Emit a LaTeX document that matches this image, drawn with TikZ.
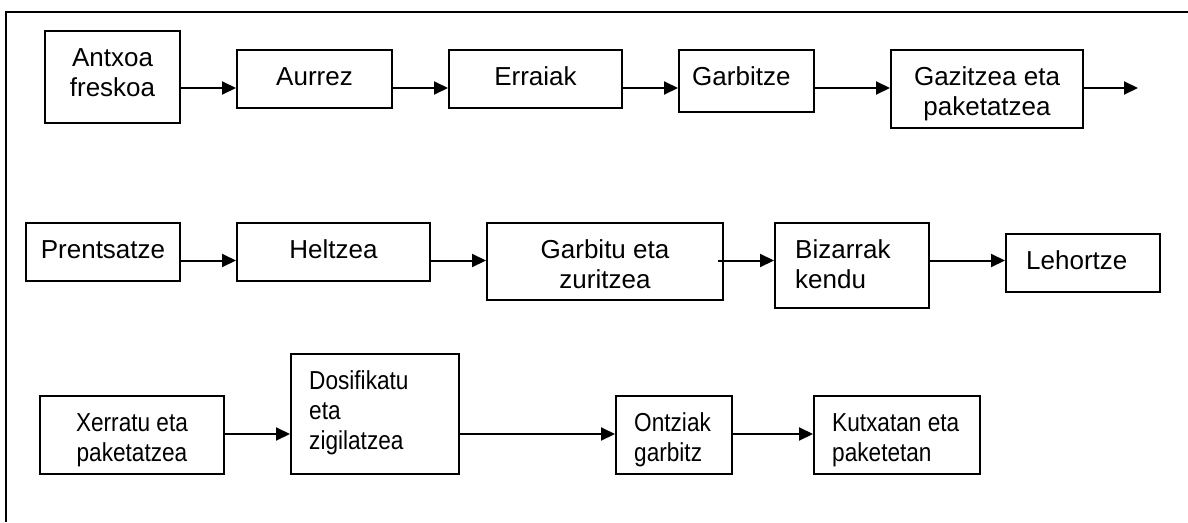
\documentclass[tikz,border=0pt]{standalone}
\usepackage{fontspec}
\usepackage{graphicx}
\setmainfont{Liberation Sans}
\usetikzlibrary{arrows.meta}
\newcommand\ctrlines[1]{\begin{tabular}[t]{@{}c@{}}#1\end{tabular}}
\newcommand\leftlines[1]{\begin{tabular}[t]{@{}l@{}}#1\end{tabular}}
% narrower lettering used in the bottom row
\newcommand\narrow[1]{\scalebox{0.87}[1]{#1}}
\begin{document}
\begin{tikzpicture}[x=1pt,y=-1pt,
  stepbox/.style={draw=black, line width=2pt, inner sep=0pt, anchor=north west},
  lbl/.style={inner sep=0pt, text=black, font=\fontsize{26}{30}\selectfont},
  arr/.style={draw=black, line width=2pt, -{Triangle[length=14pt,width=13pt]}}]
\useasboundingbox (0,0) rectangle (1188,522);
% outer frame (top and left sides only)
\draw[line width=2pt] (6,522) -- (6,11.5) -- (1188,11.5);

% row heights of the connectors
\coordinate (r1) at (0,88);
\coordinate (r2) at (0,260.5);
\coordinate (r3) at (0,434);
\coordinate (end1) at (1138,88);

% first row
\node[stepbox, minimum width=135pt, minimum height=92pt] (b1) at (44,30) {};
\node[stepbox, minimum width=155pt, minimum height=58pt] (b2) at (236,49) {};
\node[stepbox, minimum width=173pt, minimum height=58pt] (b3) at (448,49) {};
\node[stepbox, minimum width=135pt, minimum height=62pt] (b4) at (678,49) {};
\node[stepbox, minimum width=192pt, minimum height=78pt] (b5) at (890,49) {};

% second row
\node[stepbox, minimum width=154pt, minimum height=58pt] (b6) at (25,222) {};
\node[stepbox, minimum width=193pt, minimum height=58pt] (b7) at (236,222) {};
\node[stepbox, minimum width=236pt, minimum height=77pt] (b8) at (486,222) {};
\node[stepbox, minimum width=154pt, minimum height=85pt] (b9) at (774,222) {};
\node[stepbox, minimum width=154pt, minimum height=58pt] (b10) at (1005,233) {};

% third row
\node[stepbox, minimum width=184pt, minimum height=78pt] (b11) at (39,395) {};
\node[stepbox, minimum width=168pt, minimum height=120pt] (b12) at (290,353) {};
\node[stepbox, minimum width=116pt, minimum height=78pt] (b13) at (615,395) {};
\node[stepbox, minimum width=166pt, minimum height=78pt] (b14) at (813,395) {};

% labels: first baseline 36pt below the top edge of each box
\node[lbl, anchor=base] (t1) at ([yshift=-36pt]b1.north) {\ctrlines{Antxoa\\freskoa}};
\node[lbl, anchor=base] (t2) at ([yshift=-36pt]b2.north) {Aurrez};
\node[lbl, anchor=base] (t3) at ([yshift=-36pt]b3.north) {Erraiak};
\node[lbl, anchor=base west] (t4) at ([xshift=14pt,yshift=-36pt]b4.north west) {Garbitze};
\node[lbl, anchor=base] (t5) at ([yshift=-36pt]b5.north) {\ctrlines{Gazitzea eta\\paketatzea}};

\node[lbl, anchor=base] (t6) at ([yshift=-36pt]b6.north) {Prentsatze};
\node[lbl, anchor=base] (t7) at ([yshift=-36pt]b7.north) {Heltzea};
\node[lbl, anchor=base] (t8) at ([yshift=-36pt]b8.north) {\ctrlines{Garbitu eta\\zuritzea}};
\node[lbl, anchor=base west] (t9) at ([xshift=21pt,yshift=-36pt]b9.north west) {\leftlines{Bizarrak\\kendu}};
\node[lbl, anchor=base west] (t10) at ([xshift=21pt,yshift=-36pt]b10.north west) {Lehortze};

\node[lbl, anchor=base] (t11) at ([yshift=-36pt]b11.north) {\narrow{\ctrlines{Xerratu eta\\paketatzea}}};
\node[lbl, anchor=base west] (t12) at ([xshift=19pt,yshift=-36pt]b12.north west) {\narrow{\leftlines{Dosifikatu\\eta\\zigilatzea}}};
\node[lbl, anchor=base west] (t13) at ([xshift=19pt,yshift=-36pt]b13.north west) {\narrow{\leftlines{Ontziak\\garbitz}}};
\node[lbl, anchor=base west] (t14) at ([xshift=19pt,yshift=-36pt]b14.north west) {\narrow{\leftlines{Kutxatan eta\\paketetan}}};

% connectors
\draw[arr] (b1.east |- r1) -- (b2.west |- r1);
\draw[arr] (b2.east |- r1) -- (b3.west |- r1);
\draw[arr] (b3.east |- r1) -- (b4.west |- r1);
\draw[arr] (b4.east |- r1) -- (b5.west |- r1);
\draw[arr] (b5.east |- r1) -- (end1);

\draw[arr] (b6.east |- r2) -- (b7.west |- r2);
\draw[arr] (b7.east |- r2) -- (b8.west |- r2);
\draw[arr] ([xshift=-6pt]b8.east |- r2) -- (b9.west |- r2);
\draw[arr] (b9.east |- r2) -- (b10.west |- r2);

\draw[arr] (b11.east |- r3) -- (b12.west |- r3);
\draw[arr] (b12.east |- r3) -- (b13.west |- r3);
\draw[arr] (b13.east |- r3) -- (b14.west |- r3);
\end{tikzpicture}
\end{document}
